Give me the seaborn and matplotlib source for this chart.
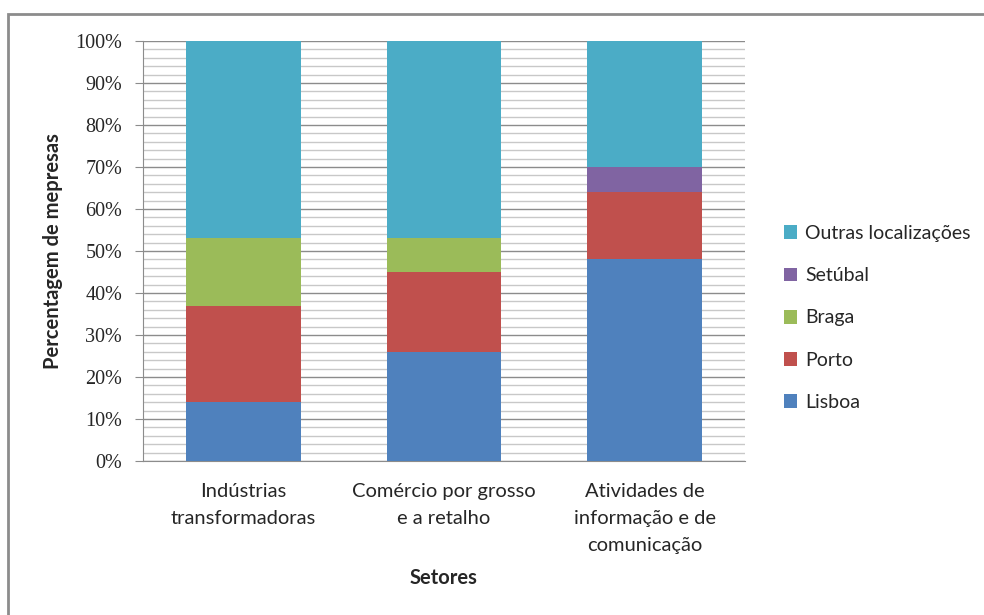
import matplotlib
matplotlib.use("Agg")
import matplotlib.pyplot as plt
from matplotlib.patches import Rectangle, Patch
from matplotlib.ticker import MultipleLocator, PercentFormatter
import seaborn as sns
import numpy as np

categories = ["Indústrias\ntransformadoras", "Comércio por grosso\ne a retalho",
              "Atividades de\ninformação e de\ncomunicação"]
series_names = ["Lisboa", "Porto", "Braga", "Setúbal", "Outras localizações"]
lisboa = [14, 26, 48]
porto = [23, 19, 16]
braga = [16, 8, 0]
setubal = [0, 0, 6]
outras = [47, 47, 30]
colors = ["#4F81BD", "#C0504D", "#9BBB59", "#8064A2", "#4BACC6"]

sns.set_style("white")
plt.rcParams['font.family'] = ['Lato', 'DejaVu Sans']

fig = plt.figure(figsize=(9.84, 6.15), dpi=100)
ax = fig.add_axes([143/984, 154/615, 602/984, 420/615])

values = [lisboa, porto, braga, setubal, outras]
bottom = np.zeros(3)
for name, vals, col in zip(series_names, values, colors):
    sns.barplot(x=categories, y=vals, bottom=bottom, color=col, width=0.57,
                ax=ax, zorder=3, linewidth=0, saturation=1)
    bottom = bottom + np.array(vals)

ax.set_ylim(0, 100)
ax.set_xlim(-0.5, 2.5)
ax.yaxis.set_major_locator(MultipleLocator(10))
ax.yaxis.set_minor_locator(MultipleLocator(2))
ax.yaxis.set_major_formatter(PercentFormatter(decimals=0))
ax.grid(which='major', axis='y', color='#8c8c8c', linewidth=1.0, zorder=0)
ax.grid(which='minor', axis='y', color='#c8c8c8', linewidth=1.0, zorder=0)
ax.set_axisbelow(True)
for s in ['top', 'right']:
    ax.spines[s].set_visible(False)
ax.spines['left'].set_color('#8c8c8c')
ax.spines['bottom'].set_color('#8c8c8c')
ax.tick_params(axis='y', which='major', direction='out', length=6, color='#8c8c8c',
               left=True, pad=9)
ax.tick_params(axis='y', which='minor', length=0)
ax.tick_params(axis='x', length=0, pad=16, labelsize=14.5)
for lbl in ax.get_yticklabels():
    lbl.set_fontfamily(['Liberation Serif', 'DejaVu Serif'])
    lbl.set_fontsize(14.5)
for lbl in ax.get_xticklabels():
    lbl.set_linespacing(1.7)

ax.set_ylabel("Percentagem de mepresas", fontsize=14.5, fontweight='bold', labelpad=9)
ax.set_xlabel("Setores", fontsize=14.5, fontweight='bold', labelpad=10)

handles = [Patch(facecolor=c, edgecolor='none') for c in colors]
leg = fig.legend(handles[::-1], series_names[::-1], loc='center left',
                 bbox_to_anchor=(766/984, 1 - 318/615), frameon=False, fontsize=14,
                 handlelength=0.7, handleheight=0.7, handletextpad=0.4,
                 labelspacing=1.3)

fig.patches.append(Rectangle((8/984, -0.1), 1.2, (615 - 14)/615 + 0.1,
                             transform=fig.transFigure, fill=False,
                             edgecolor='#8c8c8c', linewidth=2))

fig.savefig("out.png", dpi=100)
